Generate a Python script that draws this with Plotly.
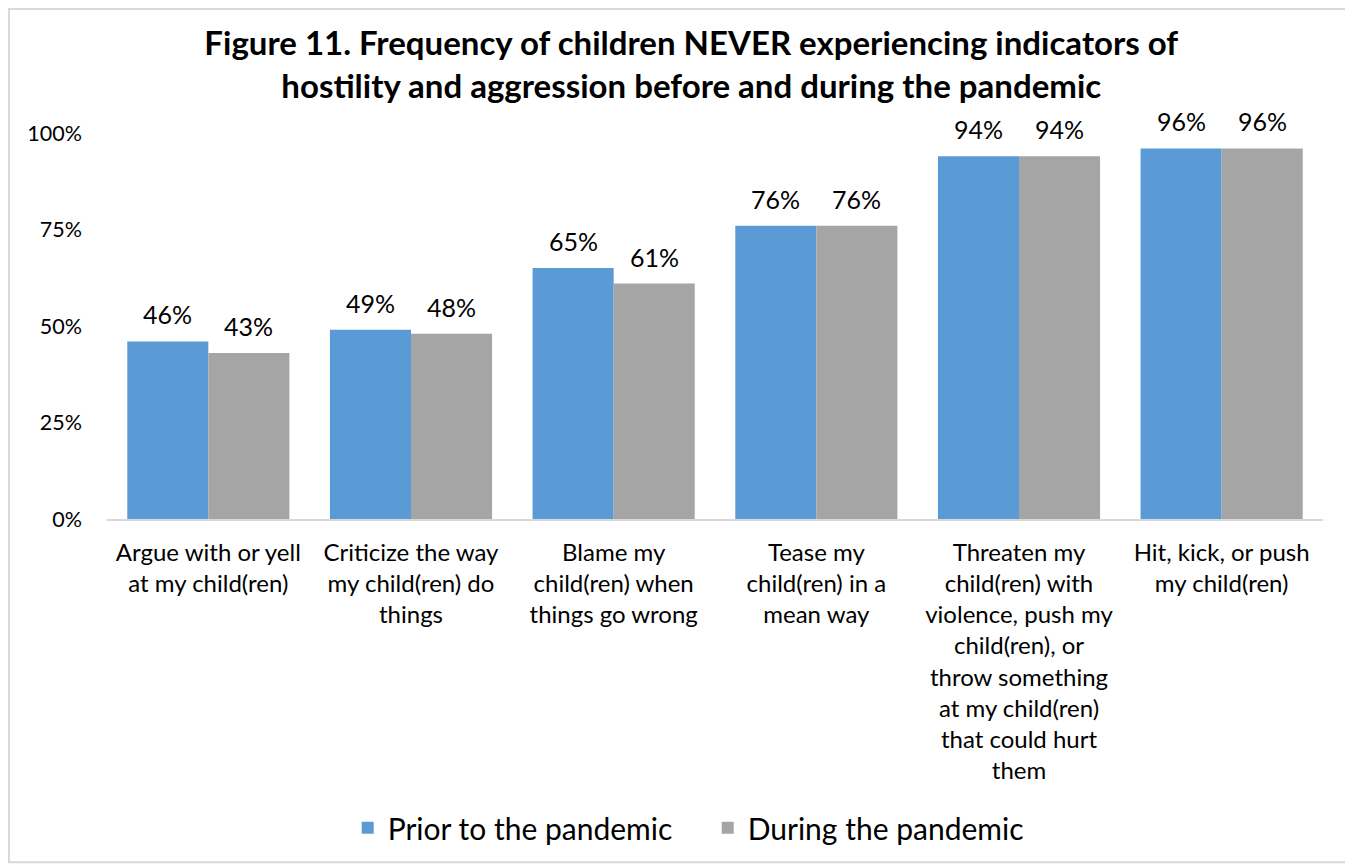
import plotly.graph_objects as go

categories = [
    "Argue with or yell<br>at my child(ren)",
    "Criticize the way<br>my child(ren) do<br>things",
    "Blame my<br>child(ren) when<br>things go wrong",
    "Tease my<br>child(ren) in a<br>mean way",
    "Threaten my<br>child(ren) with<br>violence, push my<br>child(ren), or<br>throw something<br>at my child(ren)<br>that could hurt<br>them",
    "Hit, kick, or push<br>my child(ren)",
]
prior = [0.46, 0.49, 0.65, 0.76, 0.94, 0.96]
during = [0.43, 0.48, 0.61, 0.76, 0.94, 0.96]
series_names = ["Prior to the pandemic", "During the pandemic"]
colors = ["#5B9BD5", "#A5A5A5"]
y_ticks = [0, 0.25, 0.5, 0.75, 1.0]
y_ticklabels = ["0%", "25%", "50%", "75%", "100%"]

FONT = "Lato"
BAR_HALF = 40.5  # pixel offset of each bar center within its group

fig = go.Figure()
for name, vals, col in zip(series_names, [prior, during], colors):
    fig.add_trace(go.Bar(
        x=categories, y=vals, name=name, marker_color=col,
        marker_line_width=0,
    ))

annotations = []
for vals, sign in [(prior, -1), (during, 1)]:
    for cat, v in zip(categories, vals):
        annotations.append(dict(
            x=cat, y=v, xref="x", yref="y", text=f"{round(v*100)}%",
            showarrow=False, xanchor="center", yanchor="bottom",
            xshift=sign * BAR_HALF, yshift=10,
            font=dict(size=25, family=FONT, color="#000000"),
        ))

fig.update_layout(
    width=1353, height=865,
    barmode="group", bargap=0.2, bargroupgap=0,
    paper_bgcolor="white", plot_bgcolor="white",
    font=dict(family=FONT, color="#000000"),
    margin=dict(l=99, r=38, t=125, b=354),
    title=dict(
        text="<b>Figure 11. Frequency of children NEVER experiencing indicators of<br>hostility and aggression before and during the pandemic</b>",
        x=0.505, xanchor="center", y=0.9455, yanchor="middle",
        font=dict(size=33, family=FONT, color="#000000"),
    ),
    xaxis=dict(
        showline=True, linecolor="#D9D9D9", linewidth=2,
        tickfont=dict(size=24, family=FONT), ticks="",
        showgrid=False, ticklabelstandoff=11, automargin=False,
    ),
    yaxis=dict(
        range=[0, 1.0], tickvals=y_ticks, ticktext=y_ticklabels,
        showgrid=False, zeroline=False, showline=False,
        tickfont=dict(size=21.5, family=FONT), ticks="", ticklabelstandoff=24,
        automargin=False,
    ),
    legend=dict(
        orientation="h", x=0.494, xanchor="center", y=-0.8, yanchor="middle",
        font=dict(size=30, family=FONT), itemwidth=30, entrywidth=315,
        traceorder="normal",
    ),
    annotations=annotations,
    shapes=[dict(type="rect", xref="paper", yref="paper", layer="below",
                 x0=-0.0806, x1=1.023, y0=-0.889, y1=1.321,
                 line=dict(color="#D9D9D9", width=2), fillcolor="rgba(0,0,0,0)")],
)

fig.write_html("out.html")
